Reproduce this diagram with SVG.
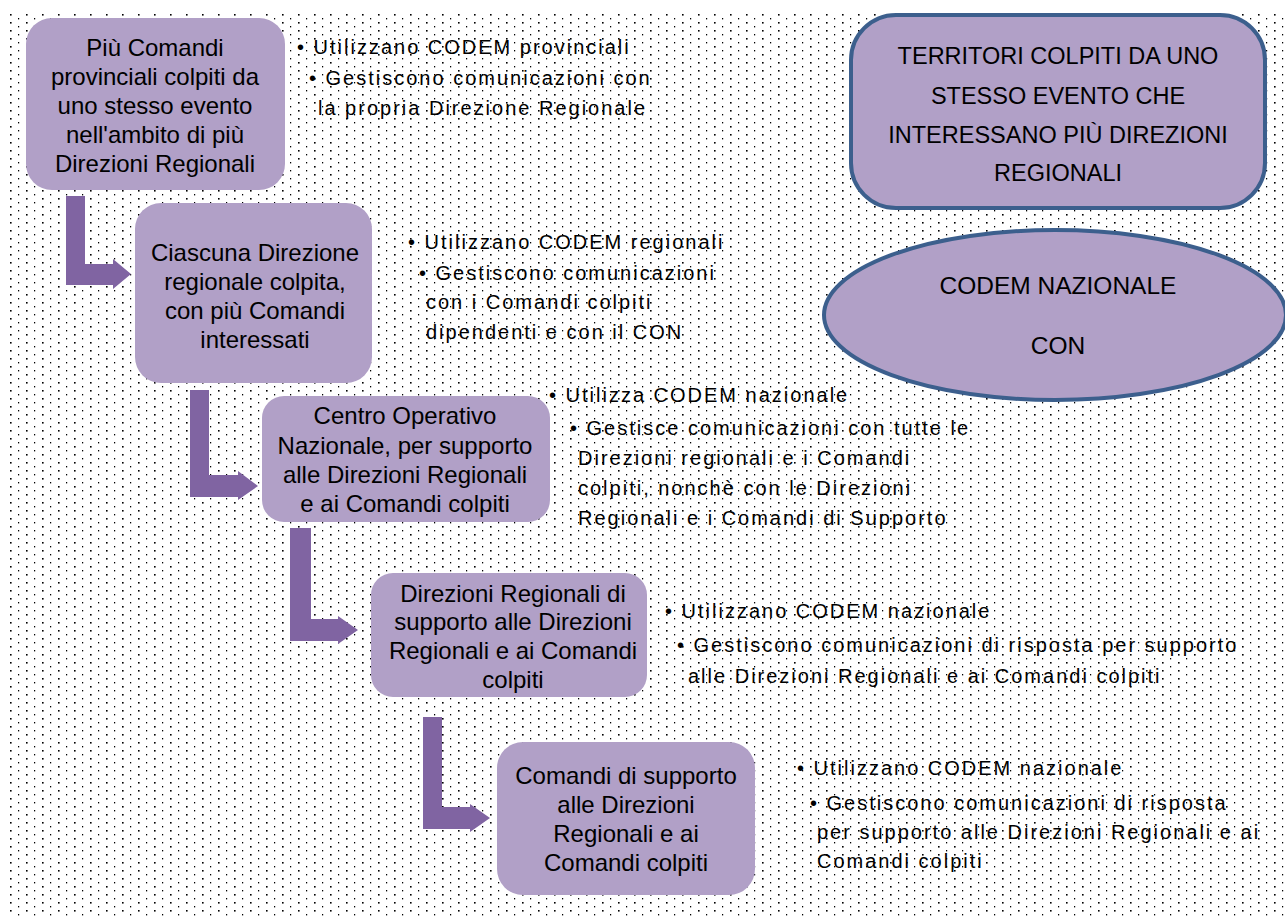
<svg xmlns="http://www.w3.org/2000/svg" width="1285" height="918" viewBox="0 0 1285 918">
<defs>
<pattern id="dots" x="0" y="0" width="16" height="8" patternUnits="userSpaceOnUse">
<rect x="10" y="6" width="1.6" height="1.6" fill="#000"/>
<rect x="2" y="2" width="1.2" height="1.4" fill="#000"/>
</pattern>
<style>
.box{fill:#B1A0C7;}
.hdr{fill:#B1A0C7;stroke:#3C5F8D;stroke-width:4;}
.bt{font-family:"Liberation Sans",Arial,sans-serif;font-size:24px;fill:#000;text-anchor:middle;}
.ht{font-family:"Liberation Sans",Arial,sans-serif;font-size:23.5px;fill:#000;text-anchor:middle;}
.et{font-family:"Liberation Sans",Arial,sans-serif;font-size:24.5px;fill:#000;text-anchor:middle;}
.lt{font-family:"Liberation Sans",Arial,sans-serif;font-size:20px;letter-spacing:2px;fill:#000;}
.arr{fill:#8064A2;}
</style>
</defs>
<rect x="0" y="0" width="1285" height="918" fill="#fff"/>
<rect x="5" y="12" width="1280" height="906" fill="url(#dots)"/>

<g id="connectors">
<path class="arr" d="M66,196 H85 V264 H113 V259 L131,274 L113,289 V285 H66 Z"/>
<path class="arr" d="M190,390 H209 V475 H238 V471 L258,486 L238,500 V497 H190 Z"/>
<path class="arr" d="M290,528 H311 V619 H338 V616 L358,630 L338,644 V641 H290 Z"/>
<path class="arr" d="M423,717 H442 V807 H470 V804 L490,818 L470,832 V829 H423 Z"/>
</g>

<g id="node1">
<rect class="box" x="26" y="18" width="259" height="172" rx="26"/>
<text class="bt" x="155" y="56">Più Comandi</text>
<text class="bt" x="155" y="85">provinciali colpiti da</text>
<text class="bt" x="155" y="114">uno stesso evento</text>
<text class="bt" x="155" y="143">nell'ambito di più</text>
<text class="bt" x="155" y="172">Direzioni Regionali</text>
</g>

<g id="node2">
<rect class="box" x="135" y="203" width="237" height="180" rx="26"/>
<text class="bt" x="255" y="261">Ciascuna Direzione</text>
<text class="bt" x="255" y="290">regionale colpita,</text>
<text class="bt" x="255" y="319">con più Comandi</text>
<text class="bt" x="255" y="348">interessati</text>
</g>

<g id="node3">
<rect class="box" x="262" y="396" width="288" height="126" rx="22"/>
<text class="bt" x="405" y="424">Centro Operativo</text>
<text class="bt" x="405" y="454">Nazionale, per supporto</text>
<text class="bt" x="405" y="483">alle Direzioni Regionali</text>
<text class="bt" x="405" y="512">e ai Comandi colpiti</text>
</g>

<g id="node4">
<rect class="box" x="371" y="573" width="276" height="124" rx="22"/>
<text class="bt" x="513" y="602">Direzioni Regionali di</text>
<text class="bt" x="513" y="630">supporto alle Direzioni</text>
<text class="bt" x="513" y="659">Regionali e ai Comandi</text>
<text class="bt" x="513" y="688">colpiti</text>
</g>

<g id="node5">
<rect class="box" x="497" y="742" width="258" height="153" rx="26"/>
<text class="bt" x="626" y="784">Comandi di supporto</text>
<text class="bt" x="626" y="813">alle Direzioni</text>
<text class="bt" x="626" y="842">Regionali e ai</text>
<text class="bt" x="626" y="871">Comandi colpiti</text>
</g>

<g id="header">
<rect class="hdr" x="851" y="15" width="414" height="193" rx="45"/>
<text class="ht" x="1058" y="64">TERRITORI COLPITI DA UNO</text>
<text class="ht" x="1058" y="104">STESSO EVENTO CHE</text>
<text class="ht" x="1058" y="143">INTERESSANO PIÙ DIREZIONI</text>
<text class="ht" x="1058" y="181">REGIONALI</text>
</g>

<g id="codem">
<ellipse class="hdr" cx="1055" cy="315" rx="231" ry="85"/>
<text class="et" x="1058" y="294">CODEM NAZIONALE</text>
<text class="et" x="1058" y="354">CON</text>
</g>

<g id="list1">
<text class="lt" x="297" y="54">• Utilizzano CODEM provinciali</text>
<text class="lt" x="309" y="85">• Gestiscono comunicazioni con</text>
<text class="lt" x="318" y="115">la propria Direzione Regionale</text>
</g>

<g id="list2">
<text class="lt" x="408" y="249">• Utilizzano CODEM regionali</text>
<text class="lt" x="419" y="280">• Gestiscono comunicazioni</text>
<text class="lt" x="426" y="309">con i Comandi colpiti</text>
<text class="lt" x="426" y="339">dipendenti e con il CON</text>
</g>

<g id="list3">
<text class="lt" x="549" y="402">• Utilizza CODEM nazionale</text>
<text class="lt" x="570" y="435">• Gestisce comunicazioni con tutte le</text>
<text class="lt" x="578" y="465">Direzioni regionali e i Comandi</text>
<text class="lt" x="578" y="495">colpiti, nonchè con le Direzioni</text>
<text class="lt" x="578" y="525">Regionali e i Comandi di Supporto</text>
</g>

<g id="list4">
<text class="lt" x="665" y="618">• Utilizzano CODEM nazionale</text>
<text class="lt" x="677" y="652">• Gestiscono comunicazioni di risposta per supporto</text>
<text class="lt" x="688" y="683">alle Direzioni Regionali e ai Comandi colpiti</text>
</g>

<g id="list5">
<text class="lt" x="797" y="775">• Utilizzano CODEM nazionale</text>
<text class="lt" x="810" y="810">• Gestiscono comunicazioni di risposta</text>
<text class="lt" x="817" y="839">per supporto alle Direzioni Regionali e ai</text>
<text class="lt" x="817" y="868">Comandi colpiti</text>
</g>
</svg>
